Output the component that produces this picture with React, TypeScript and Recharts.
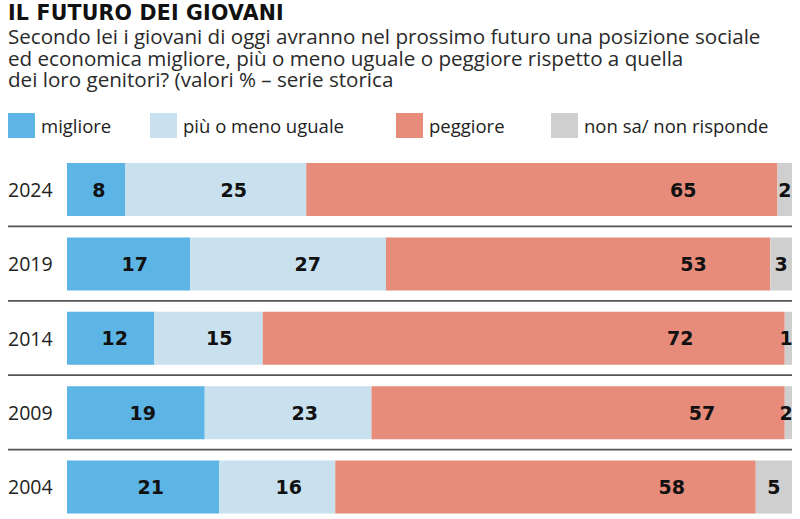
import React from "react";
import { BarChart, Bar, XAxis, YAxis, LabelList } from "recharts";

const YEARS = ["2024", "2019", "2014", "2009", "2004"];
const MIGLIORE = [8, 17, 12, 19, 21];
const UGUALE = [25, 27, 15, 23, 16];
const PEGGIORE = [65, 53, 72, 57, 58];
const NON_SA = [2, 3, 1, 2, 5];

const SERIES = [
  { key: "migliore", name: "migliore", color: "#5db5e6", labelPos: 0.55 },
  { key: "uguale", name: "più o meno uguale", color: "#c9e0ef", labelPos: 0.6 },
  { key: "peggiore", name: "peggiore", color: "#e78b7b", labelPos: 0.8 },
  { key: "nonsa", name: "non sa/ non risponde", color: "#cfcfcf", labelPos: 0.5 },
];

const data = YEARS.map((year, i) => ({
  year,
  migliore: MIGLIORE[i],
  uguale: UGUALE[i],
  peggiore: PEGGIORE[i],
  nonsa: NON_SA[i],
}));

// layout
const W = 800;
const CHART_TOP = 150;
const PLOT_LEFT = 67;
const PLOT_RIGHT = 792;
const PLOT_H = 372;
const BAND = PLOT_H / YEARS.length;
const LEGEND_X = [8, 150, 396, 551];

const sans = "'Open Sans', 'Noto Sans', sans-serif";
const bold = "'DejaVu Sans', sans-serif";

const makeLabel = (pos: number) => (props: any) => {
  const { x, y, width, height, value } = props;
  const end = Math.min(x + width, PLOT_RIGHT);
  let cx = x + (end - x) * pos;
  cx = Math.min(cx, PLOT_RIGHT - 6);
  return (
    <text x={cx} y={y + height / 2} textAnchor="middle" dominantBaseline="central"
      fontFamily={bold} fontWeight={700} fontSize={19} fill="#111">
      {value}
    </text>
  );
};

const YearTick = (props: any) => {
  const { y, payload, index } = props;
  return (
    <g>
      <text x={8} y={y} dominantBaseline="central" fontFamily={sans} fontSize={19.5} fill="#222">
        {payload.value}
      </text>
      {index < YEARS.length - 1 && (
        <line x1={8} x2={PLOT_RIGHT} y1={y + BAND / 2} y2={y + BAND / 2} stroke="#555" strokeWidth={1.8} />
      )}
    </g>
  );
};

export default function App() {
  return (
    <div style={{ position: "relative", width: W, height: 519, overflow: "hidden", background: "#fff" }}>
      <style>{`body{margin:0;overflow:hidden}`}</style>
      <div style={{ position: "absolute", left: 8, top: 1, fontFamily: bold, fontWeight: 900, fontSize: 20.5, color: "#111", letterSpacing: 0.2 }}>
        IL FUTURO DEI GIOVANI
      </div>
      <div style={{ position: "absolute", left: 8, top: 26, fontFamily: sans, fontSize: 20.6, lineHeight: "21.5px", color: "#2a2a2a", whiteSpace: "nowrap" }}>
        Secondo lei i giovani di oggi avranno nel prossimo futuro una posizione sociale<br />
        ed economica migliore, più o meno uguale o peggiore rispetto a quella<br />
        dei loro genitori? (valori % – serie storica
      </div>
      {SERIES.map((s, i) => (
        <div key={s.key} style={{ position: "absolute", left: LEGEND_X[i], top: 113, display: "flex", alignItems: "center", height: 25 }}>
          <div style={{ width: 27, height: 25, background: s.color }} />
          <span style={{ marginLeft: 6, fontFamily: sans, fontSize: 18.5, color: "#222" }}>{s.name}</span>
        </div>
      ))}
      <div style={{ position: "absolute", left: 0, top: CHART_TOP }}>
        <BarChart
          width={W}
          height={2 + PLOT_H}
          data={data}
          layout="vertical"
          margin={{ top: 2, right: W - PLOT_RIGHT, bottom: 0, left: 8 }}
          barSize={53}
        >
          <XAxis type="number" domain={[0, 100]} hide allowDataOverflow />
          <YAxis type="category" dataKey="year" width={PLOT_LEFT - 8} axisLine={false} tickLine={false} tick={<YearTick />} />
          {SERIES.map((s) => (
            <Bar key={s.key} dataKey={s.key} stackId="a" fill={s.color} isAnimationActive={false}>
              <LabelList dataKey={s.key} content={makeLabel(s.labelPos)} />
            </Bar>
          ))}
        </BarChart>
      </div>
    </div>
  );
}
